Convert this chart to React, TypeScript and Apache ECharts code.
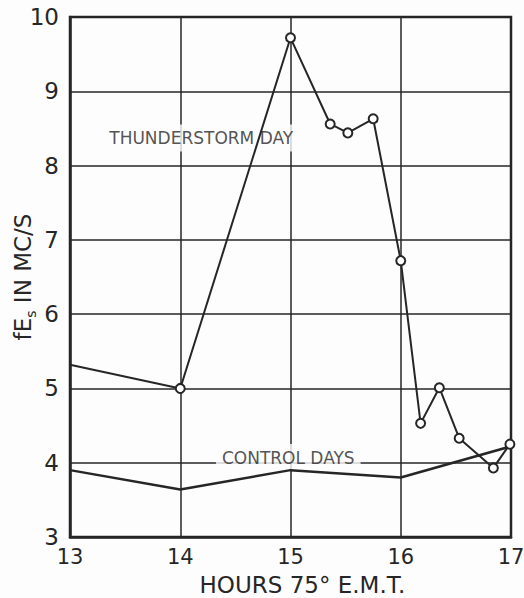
import React, { useEffect, useRef } from "react";
import * as echarts from "echarts";

const xTicks = [13, 14, 15, 16, 17];
const thunderHours = [13, 14, 15, 15.36, 15.52, 15.75, 16.0, 16.18, 16.35, 16.53, 16.84, 16.99];
const thunderValues = [5.32, 5.0, 9.72, 8.56, 8.44, 8.63, 6.72, 4.53, 5.01, 4.33, 3.93, 4.25];
const controlHours = [13, 14, 15, 16, 17];
const controlValues = [3.9, 3.64, 3.9, 3.8, 4.22];
const labelTexts = ["THUNDERSTORM DAY", "CONTROL DAYS"];
const labelPositions = [
  [14.19, 8.37],
  [14.98, 4.07],
];

const INK = "#262626";
const BG = "#fdfdfd";
const FONT = "DejaVu Sans";

export default function App() {
  const ref = useRef<HTMLDivElement>(null);
  useEffect(() => {
    if (!ref.current) return;
    const chart = echarts.init(ref.current, null, { renderer: "svg" });
    const thunderData = thunderHours.map((h, i) => ({
      value: [h, thunderValues[i]],
      symbol: i === 0 ? "none" : "emptyCircle",
    }));
    chart.setOption({
      animation: false,
      backgroundColor: BG,
      textStyle: { fontFamily: FONT },
      grid: {
        left: 70,
        top: 17,
        right: 13,
        bottom: 61,
        outerBoundsMode: "none",
        containLabel: false,
        show: true,
        borderColor: INK,
        borderWidth: 2.5,
        backgroundColor: "transparent",
      },
      xAxis: {
        type: "value",
        min: 13,
        max: 17,
        interval: 1,
        name: "HOURS 75° E.M.T.",
        nameLocation: "middle",
        nameGap: 36,
        nameMoveOverlap: false,
        nameTextStyle: { fontSize: 23, color: INK, fontFamily: FONT, padding: [0, 0, 0, 24] },
        axisLine: { show: true, lineStyle: { color: INK, width: 2.5 } },
        axisTick: { show: false },
        axisLabel: { fontSize: 21, color: INK, margin: 9, fontFamily: FONT, formatter: (v: number) => String(v) },
        splitLine: { show: true, lineStyle: { color: INK, width: 1.5 } },
      },
      yAxis: {
        type: "value",
        min: 3,
        max: 10,
        interval: 1,
        name: "{a|f}{a|E}{s|s}{a| IN MC/S}",
        nameLocation: "middle",
        nameRotate: 90,
        nameGap: 32,
        nameMoveOverlap: false,
        nameTextStyle: {
          color: INK,
          fontFamily: FONT,
          rich: {
            a: { fontSize: 23, lineHeight: 30, verticalAlign: "middle", color: INK, fontFamily: FONT },
            s: { fontSize: 14, lineHeight: 13, verticalAlign: "bottom", color: INK, fontFamily: FONT },
          },
        },
        axisLine: { show: true, lineStyle: { color: INK, width: 2.5 } },
        axisTick: { show: false },
        axisLabel: { fontSize: 23, color: INK, margin: 11, fontFamily: FONT },
        splitLine: { show: true, lineStyle: { color: INK, width: 1.5 } },
      },
      series: [
        {
          type: "scatter",
          z: 1,
          symbolSize: 0,
          silent: true,
          data: labelPositions.map((p, i) => ({ value: p, name: labelTexts[i] })),
          label: {
            show: true,
            position: "inside",
            formatter: (p: any) => p.name,
            fontSize: 17,
            color: INK,
            fontFamily: FONT,
            backgroundColor: BG,
            padding: [5, 6],
          },
        },
        {
          type: "line",
          z: 3,
          data: thunderData,
          symbolSize: 9,
          lineStyle: { color: INK, width: 2 },
          itemStyle: { color: INK, borderColor: INK, borderWidth: 1.8 },
        },
        {
          type: "line",
          z: 3,
          data: controlHours.map((h, i) => [h, controlValues[i]]),
          symbol: "none",
          lineStyle: { color: INK, width: 2.5 },
        },
      ],
    });
    return () => chart.dispose();
  }, []);
  return (
    <div
      ref={ref}
      style={{ position: "fixed", left: 0, top: 0, width: 524, height: 598, background: BG }}
    />
  );
}
